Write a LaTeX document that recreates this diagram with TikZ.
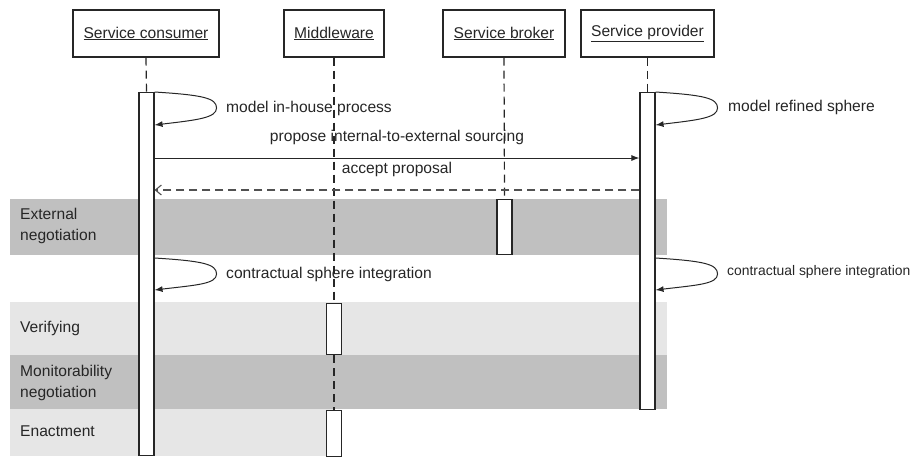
\documentclass[tikz,border=0pt]{standalone}
\usepackage{fontspec}
\setmainfont{Liberation Sans}
\usetikzlibrary{arrows.meta,calc}
\definecolor{ink}{HTML}{262626}
\definecolor{banddark}{HTML}{C0C0C0}
\definecolor{bandlight}{HTML}{E6E6E6}
\begin{document}
\begin{tikzpicture}[x=1pt,y=-1pt,
  txt/.style={font=\fontsize{15.6}{21}\selectfont, text=ink, inner sep=0pt},
  smalltxt/.style={font=\fontsize{13.9}{18}\selectfont, text=ink, inner sep=0pt},
  header/.style={txt, draw=ink, line width=1.1pt, fill=white, minimum height=47pt, inner sep=0pt},
  bar/.style={draw=ink, line width=1.1pt, fill=white, minimum width=15pt, inner sep=0pt, anchor=north},
  lifeline/.style={draw=ink, line width=1.2pt, dash pattern=on 8pt off 5pt},
  call/.style={draw=ink, line width=1pt, -{Latex[length=8pt,width=6pt]}},
  reply/.style={draw=ink!80, line width=1.1pt, dash pattern=on 8pt off 5pt, -{Straight Barb[length=6pt,width=10pt]}},
  selfcall/.style={draw=ink, line width=1pt, -{Latex[length=8pt,width=6pt]}}
]
\useasboundingbox (0,0) rectangle (911,456);

% phase bands
\fill[banddark]  (10,199) rectangle (667,255);
\fill[bandlight] (10,302) rectangle (667,355);
\fill[banddark]  (10,355) rectangle (667,409);
\fill[bandlight] (10,409) rectangle (334,456);

\node[txt, anchor=west, align=left] (lblext) at (20,225.5) {External\\negotiation};
\node[txt, anchor=west] (lblver) at (20,328) {Verifying};
\node[txt, anchor=west, align=left] (lblmon) at (20,382.5) {Monitorability\\negotiation};
\node[txt, anchor=west] (lblena) at (20,431) {Enactment};

% participants
\node[header, minimum width=146pt] (cons) at (146,33.5) {\underline{Service consumer}};
\node[header, minimum width=100pt] (mid)  at (334,33.5) {\underline{Middleware}};
\node[header, minimum width=122pt] (brok) at (504,33.5) {\underline{Service broker}};
\node[header, minimum width=133pt] (prov) at (647.5,33.5) {\underline{Service provider}};

% activation bars
\node[bar, minimum height=363pt] (cbar)  at (146.5,92) {};
\node[bar, minimum height=317pt] (pbar)  at (647.5,92) {};
\node[bar, minimum height=55pt]  (bbar)  at (504.5,199) {};
\node[bar, minimum height=51pt]  (mbar1) at (334,303) {};
\node[bar, minimum height=46pt]  (mbar2) at (334,410) {};

% lifelines
\draw[lifeline] (cons.south) -- (cbar.north);
\draw[lifeline] (prov.south) -- (pbar.north);
\draw[lifeline] (brok.south) -- (bbar.north);
\draw[lifeline] (mid.south) -- (mbar1.north);
\draw[lifeline] (mbar1.south) -- (mbar2.north);

% messages
\coordinate (r1) at (0,158);
\coordinate (r2) at (0,190);
\draw[call] (cbar.east |- r1) -- node[txt, above=13pt, pos=0.5] (mprop) {propose internal-to-external sourcing} (pbar.west |- r1);
\draw[reply] (pbar.west |- r2) -- node[txt, above=13pt, pos=0.5] (macc) {accept proposal} (cbar.east |- r2);

% self calls
\coordinate (s1) at (0,92);
\coordinate (s1e) at (0,125);
\coordinate (s2) at (0,258);
\coordinate (s2e) at (0,290);
\draw[selfcall] (cbar.north east) .. controls +(48,3) and +(0,-10) .. ($(cbar.east |- s1)+(62,16)$)
  .. controls +(0,10) and +(42,-5) .. (cbar.east |- s1e);
\node[txt, anchor=west] (tc1) at (226,108) {model in-house process};
\draw[selfcall] (pbar.north east) .. controls +(48,3) and +(0,-10) .. ($(pbar.east |- s1)+(62,16)$)
  .. controls +(0,10) and +(42,-5) .. (pbar.east |- s1e);
\node[txt, anchor=west] (tp1) at (728,107) {model refined sphere};
\draw[selfcall] (cbar.east |- s2) .. controls +(48,3) and +(0,-10) .. ($(cbar.east |- s2)+(62,16)$)
  .. controls +(0,10) and +(42,-5) .. (cbar.east |- s2e);
\node[txt, anchor=west] (tc2) at (226,274) {contractual sphere integration};
\draw[selfcall] (pbar.east |- s2) .. controls +(48,3) and +(0,-10) .. ($(pbar.east |- s2)+(62,16)$)
  .. controls +(0,10) and +(42,-5) .. (pbar.east |- s2e);
\node[smalltxt, anchor=west] (tp2) at (727,272) {contractual sphere integration};
\end{tikzpicture}
\end{document}
